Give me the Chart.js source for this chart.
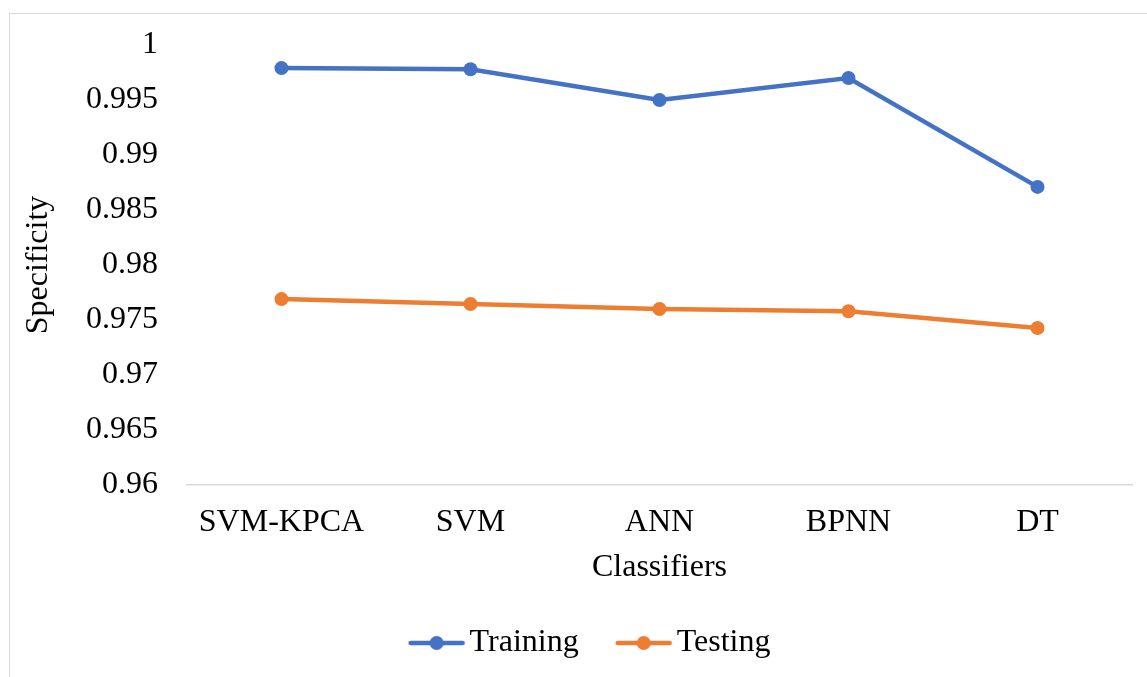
<!DOCTYPE html>
<html lang="en">
<head>
    <meta charset="UTF-8">
    <title>Specificity</title>
    <script src="https://cdn.jsdelivr.net/npm/chart.js@4"></script>
    <style>
        body { margin: 0; background: #fff; }
        #wrap { position: relative; width: 1147px; height: 677px; }
        #frame { position: absolute; left: 9px; top: 13px; width: 1160px; height: 700px;
                 border: 1px solid #d9d9d9; box-sizing: border-box; }
        canvas { position: absolute; left: 0; top: 0; }
    </style>
</head>
<body>

<div id="wrap">
    <div id="frame"></div>
    <canvas id="myChart" width="1147" height="677"></canvas>
</div>

<script>

    var classifiers = ["SVM-KPCA", "SVM", "ANN", "BPNN", "DT"];
    var training = [0.9979, 0.9978, 0.9950, 0.9970, 0.9871];
    var testing = [0.9769, 0.97645, 0.9760, 0.9758, 0.97427];

    var blue = "#4472C4";
    var orange = "#ED7D31";
    var font = "'Liberation Serif', 'Times New Roman', serif";

    // small line-with-dot image for the legend
    function legendMark(color) {
        var c = document.createElement("canvas");
        c.width = 58;
        c.height = 16;
        var g = c.getContext("2d");
        g.strokeStyle = color;
        g.lineWidth = 4.5;
        g.lineCap = "round";
        g.beginPath();
        g.moveTo(3, 8);
        g.lineTo(55, 8);
        g.stroke();
        g.fillStyle = color;
        g.beginPath();
        g.arc(29, 8, 7, 0, Math.PI * 2);
        g.fill();
        return c;
    }

    var marks = [legendMark(blue), legendMark(orange)];

    var ctx = document.getElementById("myChart");

    var chart = new Chart(ctx, {
        type: 'line',
        data: {
            labels: classifiers,
            datasets: [{
                label: 'Training',
                data: training,
                borderColor: blue,
                backgroundColor: blue,
                borderWidth: 4.5,
                pointRadius: 7,
                pointHoverRadius: 7,
                pointBorderWidth: 0,
                tension: 0
            }, {
                label: 'Testing',
                data: testing,
                borderColor: orange,
                backgroundColor: orange,
                borderWidth: 4.5,
                pointRadius: 7,
                pointHoverRadius: 7,
                pointBorderWidth: 0,
                tension: 0
            }]
        },
        options: {
            responsive: false,
            animation: false,
            layout: {
                padding: { top: 45, right: 15, bottom: 8, left: 58 }
            },
            plugins: {
                tooltip: { enabled: false },
                legend: {
                    position: 'bottom',
                    labels: {
                        usePointStyle: true,
                        pointStyleWidth: 34,
                        boxHeight: 16,
                        padding: 48,
                        color: '#000',
                        font: { family: font, size: 32 },
                        generateLabels: function (ch) {
                            return ch.data.datasets.map(function (ds, i) {
                                return {
                                    text: ds.label,
                                    pointStyle: marks[i],
                                    fillStyle: ds.borderColor,
                                    strokeStyle: ds.borderColor,
                                    lineWidth: 0,
                                    hidden: false,
                                    datasetIndex: i
                                };
                            });
                        }
                    }
                }
            },
            scales: {
                x: {
                    offset: true,
                    grid: { display: false, drawTicks: false },
                    border: { display: true, color: '#d9d9d9', width: 1.5 },
                    ticks: {
                        color: '#000',
                        padding: 18,
                        maxRotation: 0,
                        font: { family: font, size: 32 }
                    },
                    title: {
                        display: true,
                        text: 'Classifiers',
                        color: '#000',
                        padding: { top: -8, bottom: -8 },
                        font: { family: font, size: 32 }
                    },
                    afterFit: function (scale) {
                        scale.height = 94;
                    }
                },
                y: {
                    min: 0.96,
                    max: 1,
                    grid: { display: false, drawTicks: false },
                    border: { display: false },
                    ticks: {
                        stepSize: 0.005,
                        color: '#000',
                        padding: 29,
                        font: { family: font, size: 32, lineHeight: 1 },
                        callback: function (v) {
                            return String(parseFloat(v.toFixed(3)));
                        }
                    },
                    title: {
                        display: true,
                        text: 'Specificity',
                        color: '#000',
                        padding: { top: -39, bottom: -39 },
                        font: { family: font, size: 32 }
                    },
                    afterFit: function (scale) {
                        scale.width = 129;
                    }
                }
            }
        }
    });

</script>

</body>
</html>
